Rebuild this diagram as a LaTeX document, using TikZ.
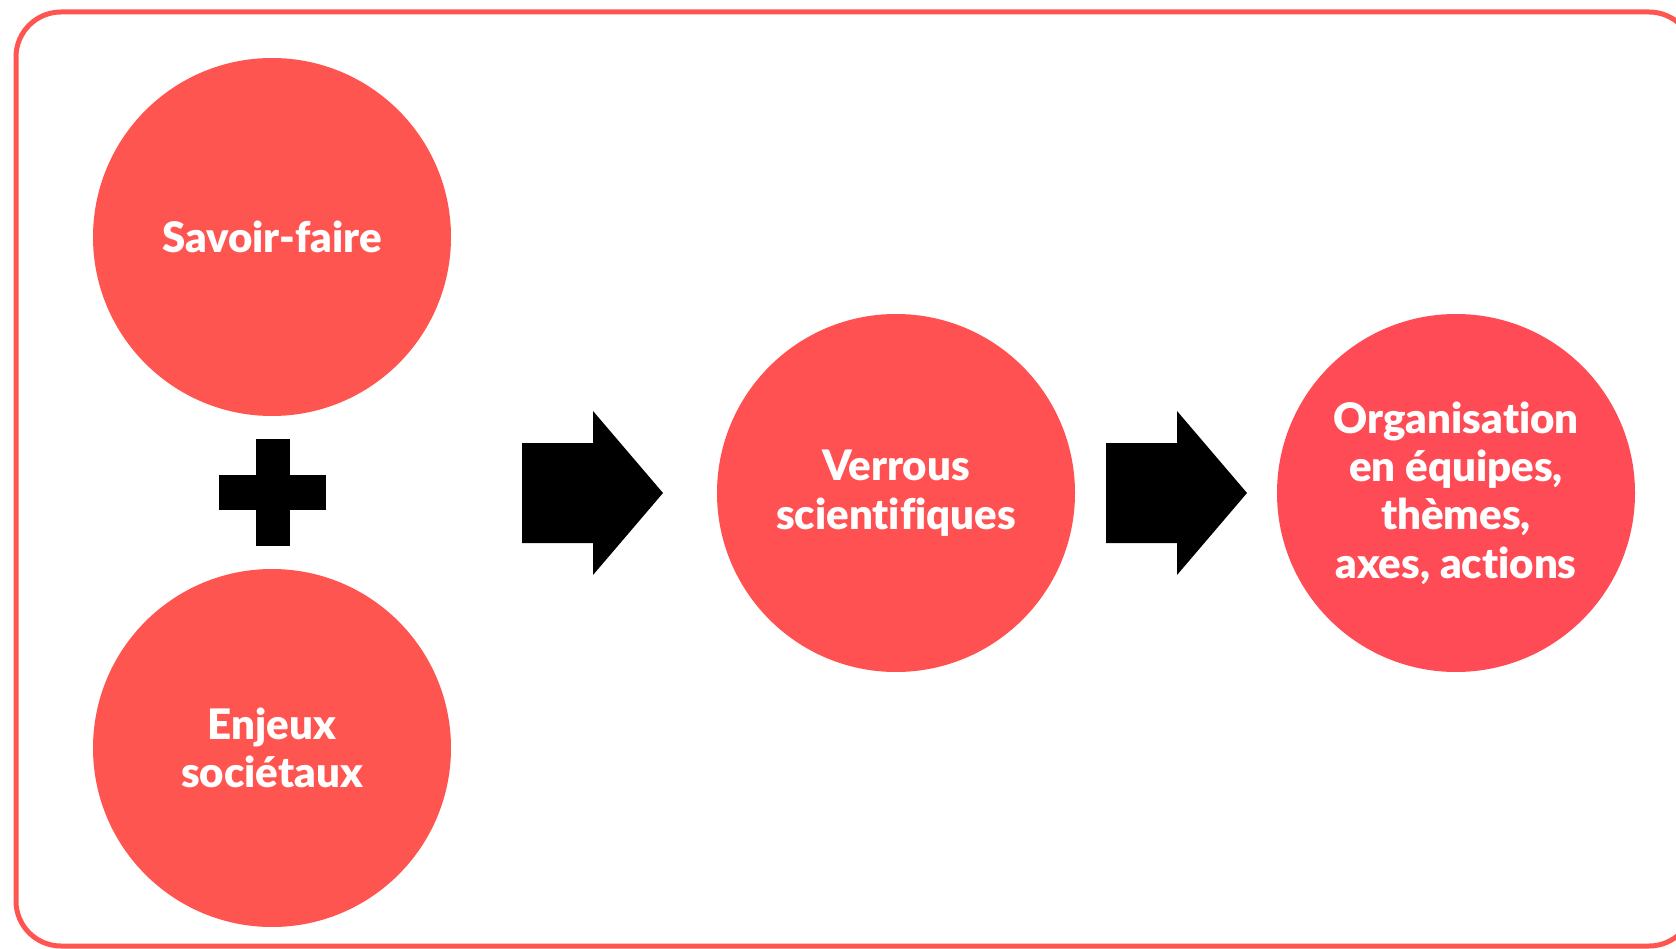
\documentclass[tikz,border=0pt]{standalone}
\usepackage{fontspec}
\setmainfont{Lato}[BoldFont={Lato Black}, Ligatures=NoCommon]
\usetikzlibrary{positioning}

\definecolor{corail}{RGB}{255,85,80}
\definecolor{corailb}{RGB}{255,80,82}
\definecolor{corailc}{RGB}{255,75,85}

\tikzset{
  bulle/.style={circle, fill=corail, minimum size=358pt, inner sep=0pt,
    text=white, align=center, font=\bfseries\fontsize{42}{48.4}\selectfont},
  fleche/.style={fill=black}
}

\begin{document}
\begin{tikzpicture}[x=1pt, y=-1pt]
    \useasboundingbox (0,0) rectangle (1676,949);
    \clip (0,0) rectangle (1676,949);

    % Frame
    \draw[corail, line width=5pt, rounded corners=45pt] (16,12) rectangle (1694,946);

    % Circles
    \node[bulle] (savoir) at (272,237) {Savoir-faire};
    \node[bulle] (enjeux) at (272,748) {Enjeux\\sociétaux};
    \node[bulle, fill=corailb] (verrous) at (896,493) {Verrous\\scientifiques};
    \node[bulle, fill=corailc] (orga) at (1456,493) {Organisation\\en équipes,\\thèmes,\\axes, actions};

    % Plus sign
    \fill (255.5,439) rectangle (289.5,546);
    \fill (219,475) rectangle (326,510);

    % Big arrows
    \foreach \x in {522,1106}
        \fill[fleche] (\x,443) -- ++(71,0) -- ++(0,-32) -- ++(70,82)
            -- ++(-70,82) -- ++(0,-32) -- ++(-71,0) -- cycle;

\end{tikzpicture}
\end{document}
